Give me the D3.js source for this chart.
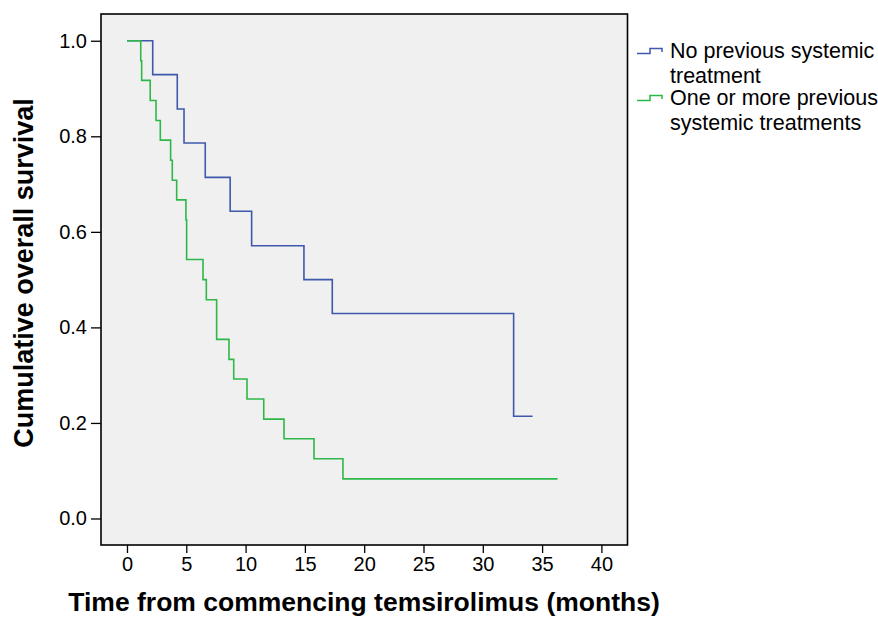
<!DOCTYPE html>
<html>
<head>
<meta charset="utf-8">
<script src="https://cdn.jsdelivr.net/npm/d3@7"></script>
<style>
  body { margin: 0; background: #ffffff; }
  text { font-family: "Liberation Sans", Arial, sans-serif; fill: #000; }
</style>
</head>
<body>
<div id="scene"></div>
<script>
// Kaplan-Meier steps (months, survival)
var blueTimes = [0, 2.17, 4.24, 4.81, 6.6, 8.7, 10.51, 14.92, 17.31, 32.6, 34.2];
var blueSurv = [1.0, 0.929, 0.857, 0.786, 0.714, 0.643, 0.571, 0.5, 0.429, 0.214, 0.214];

var greenTimes = [0, 1.16, 1.24, 1.96, 2.45, 2.81, 3.68, 3.82, 4.19, 4.97, 5.03, 6.41, 6.69,
  7.56, 8.6, 9.0, 10.12, 11.53, 13.24, 15.77, 18.21, 36.3];
var greenSurv = [1.0, 0.958, 0.917, 0.875, 0.833, 0.792, 0.75, 0.708, 0.667, 0.625, 0.542, 0.5, 0.458,
  0.375, 0.333, 0.292, 0.25, 0.208, 0.167, 0.125, 0.083, 0.083];

var seriesNames = ["No previous systemic|treatment", "One or more previous|systemic treatments"];
var xTicks = [0, 5, 10, 15, 20, 25, 30, 35, 40];
var yTicks = [0, 0.2, 0.4, 0.6, 0.8, 1.0];

var ctx = {
  w: 878,
  h: 618,
  left: 101,
  right: 627.5,
  top: 14,
  bottom: 545,
  colors: ["#3E58AC", "#2EB848"]
};

var svg = d3.select("#scene").append("svg")
  .attr("width", ctx.w)
  .attr("height", ctx.h);

var x = d3.scaleLinear().domain([-2.19, 42.2]).range([ctx.left, ctx.right]);
var y = d3.scaleLinear().domain([-0.0555, 1.056]).range([ctx.bottom, ctx.top]);

// plot background
svg.append("rect")
  .attr("x", ctx.left)
  .attr("y", ctx.top)
  .attr("width", ctx.right - ctx.left)
  .attr("height", ctx.bottom - ctx.top)
  .attr("fill", "#f0f0f0");

// axes
var xAxis = svg.append("g")
  .attr("transform", "translate(0," + ctx.bottom + ")")
  .call(d3.axisBottom(x).tickValues(xTicks).tickSize(8).tickPadding(4).tickSizeOuter(0));
var yAxis = svg.append("g")
  .attr("transform", "translate(" + ctx.left + ",0)")
  .call(d3.axisLeft(y).tickValues(yTicks).tickFormat(d3.format(".1f")).tickSize(10).tickPadding(4).tickSizeOuter(0));

[xAxis, yAxis].forEach(function (g) {
  g.select(".domain").remove();
  g.selectAll(".tick line").attr("stroke", "#000").attr("stroke-width", 1.3);
  g.selectAll(".tick text")
    .attr("font-size", 20)
    .attr("font-family", "Liberation Sans, Arial, sans-serif")
    .attr("fill", "#000");
});

// frame
svg.append("rect")
  .attr("x", ctx.left)
  .attr("y", ctx.top)
  .attr("width", ctx.right - ctx.left)
  .attr("height", ctx.bottom - ctx.top)
  .attr("fill", "none")
  .attr("stroke", "#000")
  .attr("stroke-width", 1.6);

// survival curves
var line = d3.line()
  .x(function (d) { return x(d[0]); })
  .y(function (d) { return y(d[1]); })
  .curve(d3.curveStepAfter);

var curves = [d3.zip(blueTimes, blueSurv), d3.zip(greenTimes, greenSurv)];
curves.forEach(function (pts, i) {
  svg.append("path")
    .datum(pts)
    .attr("d", line)
    .attr("fill", "none")
    .attr("stroke", ctx.colors[i])
    .attr("stroke-width", 1.6);
});

// legend
var legend = svg.append("g").attr("transform", "translate(637,0)");
seriesNames.forEach(function (name, i) {
  var base = 53.5 + i * 47;
  legend.append("path")
    .attr("d", "M0," + base + "H13V" + (base - 5) + "H25V" + (base - 1.5))
    .attr("fill", "none")
    .attr("stroke", ctx.colors[i])
    .attr("stroke-width", 1.5);
  name.split("|").forEach(function (part, j) {
    legend.append("text")
      .attr("x", 33)
      .attr("y", base + 4 + j * 25)
      .attr("font-size", 21.5)
      .text(part);
  });
});

// axis titles
svg.append("text")
  .attr("x", 364)
  .attr("y", 611)
  .attr("text-anchor", "middle")
  .attr("font-size", 26.5)
  .attr("font-weight", "bold")
  .text("Time from commencing temsirolimus (months)");

svg.append("text")
  .attr("transform", "translate(33,273) rotate(-90)")
  .attr("text-anchor", "middle")
  .attr("font-size", 27)
  .attr("font-weight", "bold")
  .text("Cumulative overall survival");
</script>
</body>
</html>
